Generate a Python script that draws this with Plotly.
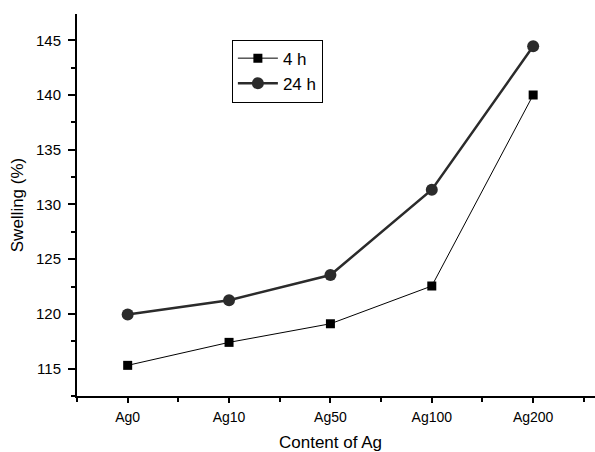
import plotly.graph_objects as go

categories = ["Ag0", "Ag10", "Ag50", "Ag100", "Ag200"]
swell_4h = [115.3, 117.4, 119.1, 122.55, 140.0]
swell_24h = [119.95, 121.25, 123.55, 131.35, 144.45]
y_ticks = [115, 120, 125, 130, 135, 140, 145]

xpos = list(range(len(categories)))

fig = go.Figure()
fig.add_trace(go.Scatter(
    x=xpos, y=swell_4h, name="4 h", mode="lines+markers",
    line=dict(color="black", width=1),
    marker=dict(symbol="square", size=9, color="black"),
))
fig.add_trace(go.Scatter(
    x=xpos, y=swell_24h, name="24 h", mode="lines+markers",
    line=dict(color="#2b2b2b", width=2.5),
    marker=dict(symbol="circle", size=12, color="#2b2b2b"),
))

font_family = "Liberation Sans, Arial, Helvetica, sans-serif"

fig.update_layout(
    width=595, height=452,
    margin=dict(l=77, r=0, t=14, b=56),
    paper_bgcolor="white", plot_bgcolor="white",
    font=dict(family=font_family, color="black", size=14),
    showlegend=True,
    legend=dict(
        x=0.299, y=0.933, xanchor="left", yanchor="top",
        bordercolor="black", borderwidth=1, bgcolor="white",
        font=dict(size=17, color="black"), itemwidth=40, tracegroupgap=0,
    ),
    xaxis=dict(
        range=[-0.5, 4.61], tickmode="array", tickvals=xpos, ticktext=categories,
        showline=True, linecolor="black", linewidth=2, mirror=False,
        showgrid=False, zeroline=False,
        ticks="outside", ticklen=5, tickwidth=1.5, tickcolor="black",
        tickfont=dict(size=14, color="black"), ticklabelstandoff=2,
        minor=dict(tickmode="array", tickvals=[-0.5, 0.5, 1.5, 2.5, 3.5, 4.5],
                   ticks="outside", ticklen=4, tickwidth=1.5, tickcolor="black", showgrid=False),
    ),
    yaxis=dict(
        range=[112.5, 147.4], tickmode="array", tickvals=y_ticks,
        showline=True, linecolor="black", linewidth=2, mirror=False,
        showgrid=False, zeroline=False,
        ticks="outside", ticklen=7, tickwidth=1.5, tickcolor="black",
        tickfont=dict(size=15, color="black"), ticklabelstandoff=4,
        title=dict(text="Swelling (%)", font=dict(size=17, color="black"), standoff=8),
        minor=dict(tickmode="array", tickvals=[112.5, 117.5, 122.5, 127.5, 132.5, 137.5, 142.5],
                   ticks="outside", ticklen=4, tickwidth=1.5, tickcolor="black", showgrid=False),
    ),
    annotations=[dict(
        text="Content of Ag", xref="paper", yref="paper",
        x=(330 - 77) / 518, y=-0.092, xanchor="center", yanchor="top",
        showarrow=False, font=dict(size=17, color="black"),
    )],
)

fig.write_html("out.html")
